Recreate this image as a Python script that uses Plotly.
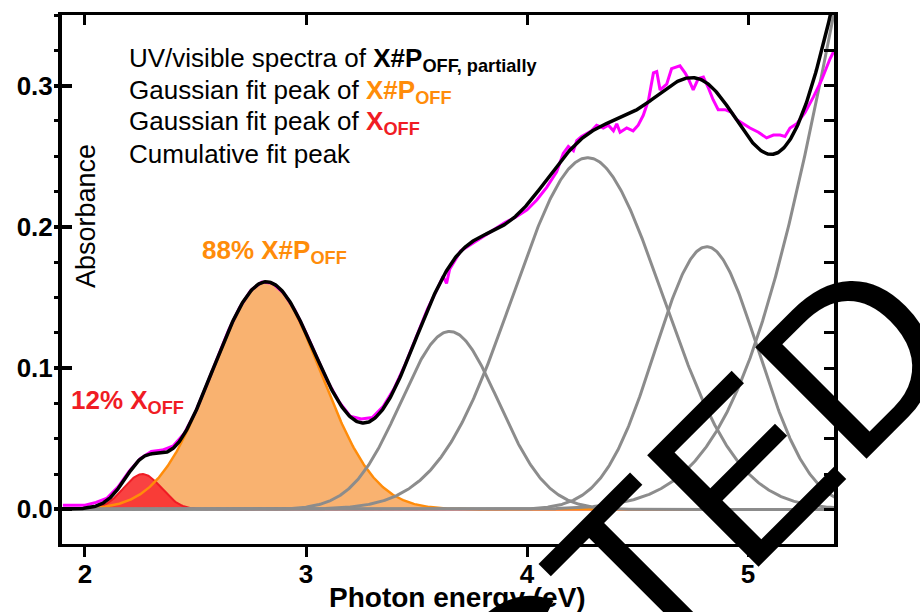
import numpy as np
import plotly.graph_objects as go

# ---- measured UV/visible spectrum (photon energy in eV, absorbance) ----
spec_energy = [1.90, 1.95, 2.00, 2.05, 2.10, 2.15, 2.20, 2.25, 2.30, 2.35, 2.40, 2.45,
               2.50, 2.55, 2.60, 2.65, 2.70, 2.75, 2.80, 2.85, 2.90, 2.95, 3.00, 3.05,
               3.10, 3.15, 3.20, 3.25, 3.30, 3.35, 3.40, 3.45, 3.50, 3.55, 3.60, 3.62,
               3.636, 3.65, 3.70, 3.75, 3.80, 3.85, 3.90, 3.95, 4.00, 4.044, 4.089, 4.134,
               4.164, 4.187, 4.21, 4.225, 4.247, 4.292, 4.315, 4.345, 4.368, 4.391, 4.406,
               4.421, 4.451, 4.48, 4.503, 4.526, 4.55, 4.572, 4.587, 4.602, 4.632, 4.654,
               4.692, 4.715, 4.73, 4.752, 4.775, 4.798, 4.819, 4.842, 4.865, 4.896, 4.926,
               4.948, 4.979, 5.009, 5.047, 5.084, 5.115, 5.145, 5.167, 5.19, 5.22, 5.258,
               5.296, 5.333, 5.371, 5.39]
spec_absorbance = [0.003, 0.003, 0.003, 0.005, 0.008, 0.016, 0.027, 0.036, 0.041, 0.042, 0.045, 0.054,
                   0.069, 0.088, 0.108, 0.127, 0.143, 0.155, 0.161, 0.160, 0.153, 0.141, 0.125, 0.107,
                   0.090, 0.076, 0.066, 0.064, 0.065, 0.073, 0.086, 0.103, 0.123, 0.142, 0.158, 0.165,
                   0.160, 0.170, 0.183, 0.188, 0.193, 0.198, 0.203, 0.207, 0.212, 0.219, 0.228, 0.239,
                   0.252, 0.257, 0.254, 0.261, 0.264, 0.268, 0.272, 0.270, 0.272, 0.268, 0.273,
                   0.267, 0.270, 0.268, 0.272, 0.279, 0.290, 0.309, 0.310, 0.297, 0.301, 0.312,
                   0.314, 0.309, 0.305, 0.297, 0.305, 0.306, 0.299, 0.290, 0.283, 0.283, 0.281,
                   0.276, 0.273, 0.270, 0.267, 0.263, 0.265, 0.265, 0.264, 0.270, 0.273, 0.281,
                   0.292, 0.304, 0.319, 0.325]

# ---- Gaussian fit peaks: X_OFF, X#P_OFF, then four further bands ----
peak_names = ["X_OFF", "X#P_OFF", "band 3", "band 4", "band 5", "band 6"]
peak_centers = [2.26, 2.82, 3.65, 4.275, 4.813, 5.878]
peak_heights = [0.025, 0.161, 0.126, 0.249, 0.186, 0.609]
peak_widths = [0.085, 0.245, 0.22, 0.34, 0.233, 0.466]

x_range = [1.896, 5.389]
y_range = [-0.0245, 0.35]
x_ticks = [2, 3, 4, 5]
y_ticks = [0.0, 0.1, 0.2, 0.3]

legend_lines = [
    "UV/visible spectra of <b>X#P<sub>OFF, partially</sub></b>",
    "Gaussian fit peak of <b><span style='color:rgb(255,140,10)'>X#P<sub>OFF</sub></span></b>",
    "Gaussian fit peak of <b><span style='color:rgb(240,28,36)'>X<sub>OFF</sub></span></b>",
    "Cumulative fit peak",
]

FONT = "Liberation Sans, Arial, sans-serif"
ORANGE = "rgb(255,140,10)"
RED = "rgb(240,28,36)"
GRAY = "rgb(140,140,140)"

grid = np.linspace(1.85, 5.45, 900)
components = [h * np.exp(-(grid - c) ** 2 / (2 * w ** 2))
              for c, h, w in zip(peak_centers, peak_heights, peak_widths)]
cumulative = np.sum(components, axis=0)

fig = go.Figure()

# filled X#P_OFF band
fig.add_trace(go.Scatter(x=grid, y=components[1], fill="tozeroy",
                         fillcolor="rgb(249,178,112)", mode="lines",
                         line=dict(width=0, color="rgba(0,0,0,0)"),
                         name=peak_names[1], hoverinfo="skip"))
# filled X_OFF band
fig.add_trace(go.Scatter(x=grid, y=components[0], fill="tozeroy",
                         fillcolor="rgba(248,50,50,0.92)", mode="lines",
                         line=dict(width=2, color=RED), name=peak_names[0]))
# X#P_OFF outline
fig.add_trace(go.Scatter(x=grid, y=components[1], mode="lines",
                         line=dict(width=2.5, color=ORANGE), name=peak_names[1]))
# remaining bands
for k in range(2, len(components)):
    fig.add_trace(go.Scatter(x=grid, y=components[k], mode="lines",
                             line=dict(width=3, color=GRAY), name=peak_names[k]))
# measured spectrum
fig.add_trace(go.Scatter(x=spec_energy, y=spec_absorbance, mode="lines",
                         line=dict(width=3, color="#FF00FF"), name="spectrum"))
# cumulative fit
fig.add_trace(go.Scatter(x=grid, y=cumulative, mode="lines",
                         line=dict(width=3.5, color="black"), name="cumulative"))

# empty traces so the mirrored frame axes are created
fig.add_trace(go.Scatter(x=[], y=[], xaxis="x2", yaxis="y", showlegend=False))
fig.add_trace(go.Scatter(x=[], y=[], xaxis="x", yaxis="y2", showlegend=False))
fig.add_trace(go.Scatter(x=[], y=[], xaxis="x", yaxis="y3", showlegend=False))

tickfont = dict(family=FONT, size=26, color="black", weight="bold")

fig.update_layout(
    width=920, height=612,
    margin=dict(l=62, r=86, t=15, b=68),
    paper_bgcolor="white", plot_bgcolor="white",
    showlegend=False,
    xaxis=dict(range=x_range, showline=True, linewidth=3, linecolor="black",
               ticks="outside", ticklen=10, tickwidth=3, tickcolor="black",
               tickvals=x_ticks, ticktext=[str(v) for v in x_ticks],
               ticklabelstandoff=-5,
               tickfont=tickfont, showgrid=False, zeroline=False),
    xaxis2=dict(range=x_range, overlaying="x", side="top", showline=True,
                linewidth=3, linecolor="black", ticks="inside", ticklen=10,
                tickwidth=3, tickcolor="black", tickvals=x_ticks,
                showticklabels=False, showgrid=False, zeroline=False),
    yaxis=dict(range=y_range, showline=True, linewidth=4, linecolor="black",
               ticks="outside", ticklen=4, tickwidth=4, tickcolor="black",
               tickvals=y_ticks, ticktext=[f"{v:.1f}" for v in y_ticks],
               ticklabelstandoff=-4,
               tickfont=tickfont, showgrid=False, zeroline=False,
               minor=dict(ticks="outside", ticklen=4, tickwidth=3,
                          tickcolor="black", tick0=0, dtick=0.025, showgrid=False)),
    yaxis2=dict(range=y_range, overlaying="y", side="right", showline=True,
                linewidth=4, linecolor="black", ticks="inside", ticklen=10,
                tickwidth=3, tickcolor="black", tick0=0, dtick=0.025,
                showticklabels=False, showgrid=False, zeroline=False),
    yaxis3=dict(range=y_range, overlaying="y", side="left", showline=False,
                ticks="inside", ticklen=10, tickwidth=4, tickcolor="black",
                tickvals=y_ticks, showticklabels=False, showgrid=False,
                zeroline=False),
)

annotations = [
    dict(text="Absorbance", xref="paper", yref="paper", x=0.0311, y=0.62,
         textangle=-90, showarrow=False, xanchor="center", yanchor="middle",
         font=dict(family=FONT, size=27, color="black")),
    dict(text="<b>Photon energy (eV)</b>", xref="paper", yref="paper",
         x=0.5117, y=-0.102, showarrow=False, xanchor="center", yanchor="middle",
         font=dict(family=FONT, size=28, color="black")),
    dict(text="<b>88% X#P<sub>OFF</sub></b>", xref="paper", yref="paper",
         x=0.1790, y=0.552, showarrow=False, xanchor="left", yanchor="middle",
         font=dict(family=FONT, size=26, color=ORANGE)),
    dict(text="<b>12% X<sub>OFF</sub></b>", xref="paper", yref="paper",
         x=0.0095, y=0.2695, showarrow=False, xanchor="left", yanchor="middle",
         font=dict(family=FONT, size=26, color=RED)),
    dict(text="CTED", xref="paper", yref="paper", x=0.8179, y=0.0461,
         textangle=-45, showarrow=False, xanchor="center", yanchor="middle",
         font=dict(family=FONT, size=229, color="black")),
]

# legend block: one line per annotation, tops 32 px apart
legend_tops_px = [40.5, 72.5, 104.5, 136.5]
for line, top_px in zip(legend_lines, legend_tops_px):
    annotations.append(dict(text=line, xref="paper", yref="paper",
                            x=(127 - 62) / 772, y=(544 - top_px) / 529,
                            showarrow=False, xanchor="left", yanchor="top",
                            align="left",
                            font=dict(family=FONT, size=26, color="black")))

fig.update_layout(annotations=annotations)

fig.write_html("out.html")
